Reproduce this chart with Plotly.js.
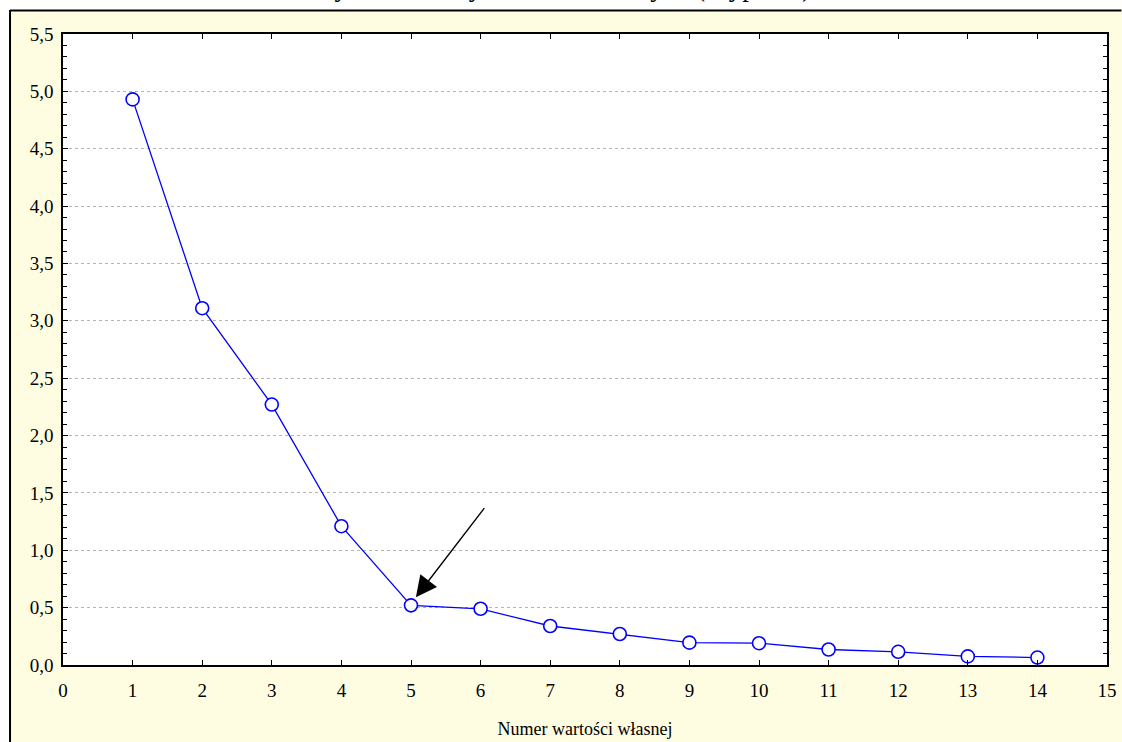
<!DOCTYPE html>
<html>
<head>
<meta charset="utf-8">
<script src="https://cdn.plot.ly/plotly-3.0.1.min.js"></script>
<style>html,body{margin:0;padding:0;background:#fff;}#chart{width:1122px;height:742px;}</style>
</head>
<body>
<div id="chart"></div>
<script>
// ---- data ----
const eigenNumber = [1, 2, 3, 4, 5, 6, 7, 8, 9, 10, 11, 12, 13, 14];
const eigenValues = [4.93, 3.11, 2.27, 1.21, 0.52, 0.49, 0.34, 0.27, 0.195, 0.19, 0.135, 0.115, 0.075, 0.065];
const chartTitle = "Wykres liniowy wartości własnych (Wypukłe)";
const xAxisTitle = "Numer wartości własnej";
const arrowTip = {x: 5.07, y: 0.59};
const arrowTail = {x: 6.07, y: 1.38};

// ---- layout geometry ----
const W = 1122, H = 742;
const M = {l: 63, r: 14.5, t: 34, b: 77};
const PW = W - M.l - M.r, PH = H - M.t - M.b;
const px = v => (v - M.l) / PW;
const py = v => (H - M.b - v) / PH;

const serif = "Liberation Serif, Times New Roman, serif";
const cream = "#fffde1";

const trace = {
  x: eigenNumber,
  y: eigenValues,
  type: "scatter",
  mode: "lines+markers",
  line: {color: "#0000ff", width: 1.3},
  marker: {symbol: "circle", size: 13, color: "#ffffff", line: {color: "#0000ff", width: 1.6}},
  hoverinfo: "x+y",
  showlegend: false,
  cliponaxis: false
};

const layout = {
  width: W, height: H,
  margin: M,
  paper_bgcolor: cream,
  plot_bgcolor: "#ffffff",
  separators: ", ",
  font: {family: serif, color: "#000", size: 19},
  title: {
    text: chartTitle,
    font: {family: serif, size: 27, color: "#000"},
    x: 0.5, xref: "container", xanchor: "center",
    y: 1, yref: "container", yanchor: "bottom",
    pad: {b: 4},
    automargin: false
  },
  xaxis: {
    range: [0, 15], dtick: 1, tick0: 0,
    showgrid: false, zeroline: false,
    showline: true, linecolor: "#000", linewidth: 1.6, mirror: "ticks",
    ticks: "inside", ticklen: 5, tickcolor: "#000", tickwidth: 1,
    tickfont: {family: serif, size: 19, color: "#000"},
    ticklabelstandoff: 8,
    title: {text: xAxisTitle, font: {family: serif, size: 18, color: "#000"}, standoff: 22},
    automargin: false, fixedrange: true
  },
  yaxis: {
    range: [0, 5.5], dtick: 0.5, tick0: 0, tickformat: ".1f",
    showgrid: true, gridcolor: "#b4b4b4", griddash: "dot", gridwidth: 1,
    zeroline: false,
    showline: true, linecolor: "#000", linewidth: 1.6, mirror: "ticks",
    ticks: "inside", ticklen: 5, tickcolor: "#000", tickwidth: 1,
    minor: {dtick: 0.1, ticks: "inside", ticklen: 4, tickcolor: "#000", tickwidth: 1, showgrid: false},
    tickfont: {family: serif, size: 19, color: "#000"},
    ticklabelstandoff: 4,
    automargin: false, fixedrange: true
  },
  shapes: [
    {type: "rect", xref: "paper", yref: "paper", x0: px(0), x1: px(W), y0: py(10), y1: py(0),
     fillcolor: "#ffffff", line: {width: 0}, layer: "below"},
    {type: "rect", xref: "paper", yref: "paper", x0: px(0), x1: px(10), y0: py(H), y1: py(10),
     fillcolor: "#ffffff", line: {width: 0}, layer: "below"},
    {type: "line", xref: "paper", yref: "paper", x0: px(10), x1: px(W), y0: py(10.5), y1: py(10.5),
     line: {color: "#000", width: 2}, layer: "below"},
    {type: "line", xref: "paper", yref: "paper", x0: px(10), x1: px(10), y0: py(10), y1: py(H),
     line: {color: "#000", width: 2}, layer: "below"}
  ],
  annotations: [
    {x: arrowTip.x, y: arrowTip.y, xref: "x", yref: "y",
     ax: arrowTail.x, ay: arrowTail.y, axref: "x", ayref: "y",
     text: "", showarrow: true, arrowhead: 2, arrowsize: 3, arrowwidth: 1.4, arrowcolor: "#000"}
  ]
};

Plotly.newPlot("chart", [trace], layout, {displayModeBar: false, staticPlot: true});
</script>
</body>
</html>
